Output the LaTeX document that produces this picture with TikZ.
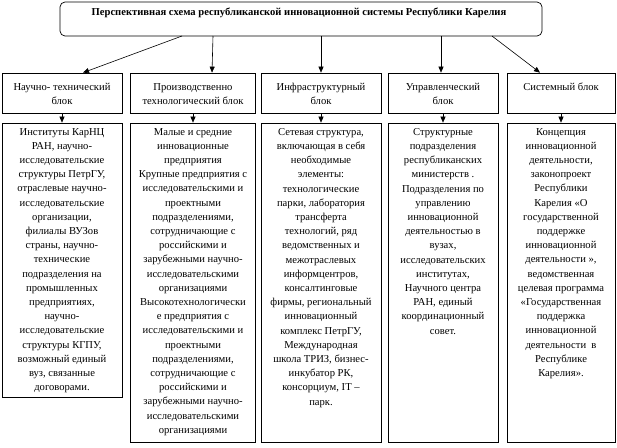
\documentclass[tikz,border=0pt]{standalone}
\usepackage{fontspec}
\setmainfont{Liberation Serif}
\usetikzlibrary{arrows.meta}
\begin{document}
\begin{tikzpicture}[x=1pt,y=-1pt,
  box/.style={draw, line width=0.7pt, inner sep=0pt},
  txt/.style={align=center, font=\fontsize{10.6}{14.2}\selectfont, inner sep=0pt, anchor=north},
  arr/.style={-{Triangle[length=6pt,width=5pt]}, line width=0.6pt}]
\useasboundingbox (0,0) rectangle (617,447);
% title
\node[box, rounded corners=5pt, minimum width=482pt, minimum height=34pt] (top) at (301,19) {};
\node[font=\fontsize{10.6}{12}\bfseries, inner sep=0pt] (title) at (299,13) {Перспективная схема республиканской инновационной системы Республики Карелия};
% header boxes
\node[box, minimum width=120pt, minimum height=40pt] (h1) at (62,93) {};
\node[box, minimum width=125pt, minimum height=40pt] (h2) at (193,93) {};
\node[box, minimum width=120pt, minimum height=40pt] (h3) at (321,93) {};
\node[box, minimum width=110pt, minimum height=40pt] (h4) at (443,93) {};
\node[box, minimum width=108pt, minimum height=40pt] (h5) at (561,93) {};
\node[txt] (t1) at (62,83) {Научно- технический\\блок};
\node[txt] (t2) at (193,83) {Производственно\\технологический блок};
\node[txt] (t3) at (321,83) {Инфраструктурный\\блок};
\node[txt] (t4) at (443,83) {Управленческий\\блок};
\node[txt] (t5) at (561,83) {Системный блок};
% content boxes
\node[box, minimum width=120pt, minimum height=274pt] (c1) at (62,260) {};
\node[box, minimum width=125pt, minimum height=319pt] (c2) at (193,282.5) {};
\node[box, minimum width=120pt, minimum height=319pt] (c3) at (321,282.5) {};
\node[box, minimum width=110pt, minimum height=319pt] (c4) at (443,282.5) {};
\node[box, minimum width=108pt, minimum height=319pt] (c5) at (561,282.5) {};
\node[txt] (d1) at (62,128) {Институты КарНЦ\\РАН, научно-\\исследовательские\\структуры ПетрГУ,\\отраслевые научно-\\исследовательские\\организации,\\филиалы ВУЗов\\страны, научно-\\технические\\подразделения на\\промышленных\\предприятиях,\\научно-\\исследовательские\\структуры КГПУ,\\возможный единый\\вуз, связанные\\договорами.};
\node[txt] (d2) at (193,128) {Малые и средние\\инновационные\\предприятия\\Крупные предприятия с\\исследовательскими и\\проектными\\подразделениями,\\сотрудничающие с\\российскими и\\зарубежными научно-\\исследовательскими\\организациями\\Высокотехнологически\\е предприятия с\\исследовательскими и\\проектными\\подразделениями,\\сотрудничающие с\\российскими и\\зарубежными научно-\\исследовательскими\\организациями};
\node[txt] (d3) at (321,128) {Сетевая структура,\\включающая в себя\\необходимые\\элементы:\\технологические\\парки, лаборатория\\трансферта\\технологий, ряд\\ведомственных и\\межотраслевых\\информцентров,\\консалтинговые\\фирмы, региональный\\инновационный\\комплекс ПетрГУ,\\Международная\\школа ТРИЗ, бизнес-\\инкубатор РК,\\консорциум, IT –\\парк.};
\node[txt] (d4) at (443,128) {Структурные\\подразделения\\республиканских\\министерств .\\Подразделения по\\управлению\\инновационной\\деятельностью в\\вузах,\\исследовательских\\институтах,\\Научного центра\\РАН, единый\\координационный\\совет.};
\node[txt] (d5) at (561,128) {Концепция\\инновационной\\деятельности,\\законопроект\\Республики\\Карелия «О\\государственной\\поддержке\\инновационной\\деятельности »,\\ведомственная\\целевая программа\\«Государственная\\поддержка\\инновационной\\деятельности~~в\\Республике\\Карелия».};
% arrows from title box
\coordinate (s1) at (182,36);
\coordinate (s2) at (213,36);
\coordinate (s3) at (321,36);
\coordinate (s4) at (441,36);
\coordinate (s5) at (492,36);
\draw[arr] (s1) -- ([xshift=21pt]h1.north);
\draw[arr] (s2) -- ([xshift=19pt]h2.north);
\draw[arr] (s3) -- (h3.north);
\draw[arr] (s4) -- ([xshift=-2pt]h4.north);
\draw[arr] (s5) -- ([xshift=-21pt]h5.north);
% arrows header -> content
\foreach \i in {1,...,5} {\draw[arr] (h\i.south) -- (c\i.north);}
\end{tikzpicture}
\end{document}
